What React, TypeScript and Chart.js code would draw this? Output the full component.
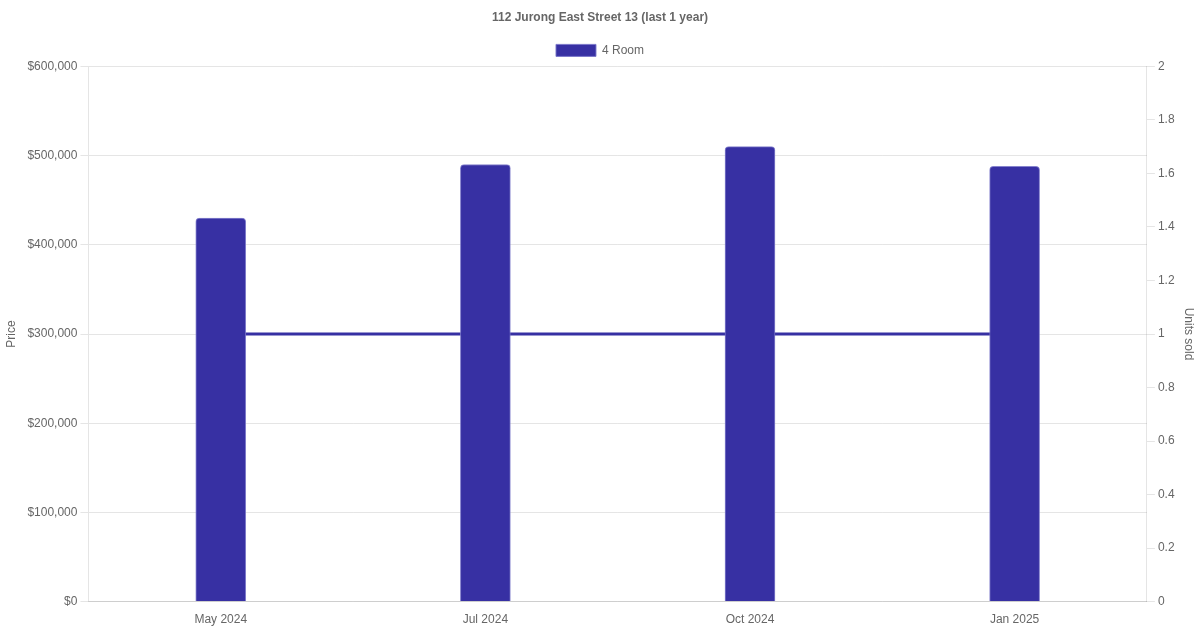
import React, { useEffect, useRef } from 'react';
import Chart from 'chart.js/auto';

// Transactions for 112 Jurong East Street 13, last 12 months
const months = ['May 2024', 'Jul 2024', 'Oct 2024', 'Jan 2025'];
const prices = [430000, 490000, 510000, 488000];
const unitsSold = [1, 1, 1, 1];
const flatType = '4 Room';

const mainColor = '#3730a3';

const formatPrice = (v: number) => '$' + Number(v).toLocaleString('en-US');
const formatUnits = (v: number) => String(+Number(v).toFixed(1));

const App: React.FC = () => {
  const chartRef = useRef<HTMLCanvasElement>(null);
  const chartInstance = useRef<Chart | null>(null);

  useEffect(() => {
    if (!chartRef.current) return;
    if (chartInstance.current) {
      chartInstance.current.destroy();
    }

    chartInstance.current = new Chart(chartRef.current, {
      type: 'bar',
      data: {
        labels: months,
        datasets: [
          {
            type: 'bar',
            label: flatType,
            data: prices,
            yAxisID: 'y',
            backgroundColor: mainColor,
            borderColor: 'rgba(120, 116, 200, 0.9)',
            borderWidth: 1,
            borderRadius: 4,
            barThickness: 50,
          },
          {
            type: 'line',
            label: flatType + ' units',
            data: unitsSold,
            yAxisID: 'y1',
            borderColor: mainColor,
            backgroundColor: mainColor,
            borderWidth: 3,
            pointRadius: 0,
            tension: 0,
          },
        ],
      },
      options: {
        responsive: true,
        maintainAspectRatio: false,
        animation: false,
        plugins: {
          title: {
            display: true,
            text: '112 Jurong East Street 13 (last 1 year)',
          },
          legend: {
            position: 'top',
            labels: {
              filter: (item) => item.datasetIndex === 0,
            },
          },
        },
        scales: {
          x: {
            grid: { display: false },
          },
          y: {
            position: 'left',
            min: 0,
            max: 600000,
            ticks: {
              stepSize: 100000,
              callback: (v) => formatPrice(v as number),
            },
            title: { display: true, text: 'Price' },
            afterFit: (scale) => {
              scale.width += 2;
            },
          },
          y1: {
            position: 'right',
            min: 0,
            max: 2,
            ticks: {
              stepSize: 0.2,
              callback: (v) => formatUnits(v as number),
            },
            grid: { drawOnChartArea: false },
            title: { display: true, text: 'Units sold' },
          },
        },
      },
    });

    return () => {
      if (chartInstance.current) {
        chartInstance.current.destroy();
        chartInstance.current = null;
      }
    };
  }, []);

  return (
    <div
      style={{
        position: 'absolute',
        left: 0,
        top: 0,
        width: '1200px',
        height: '630px',
        background: '#fff',
      }}
    >
      <canvas ref={chartRef} />
    </div>
  );
};

export default App;
